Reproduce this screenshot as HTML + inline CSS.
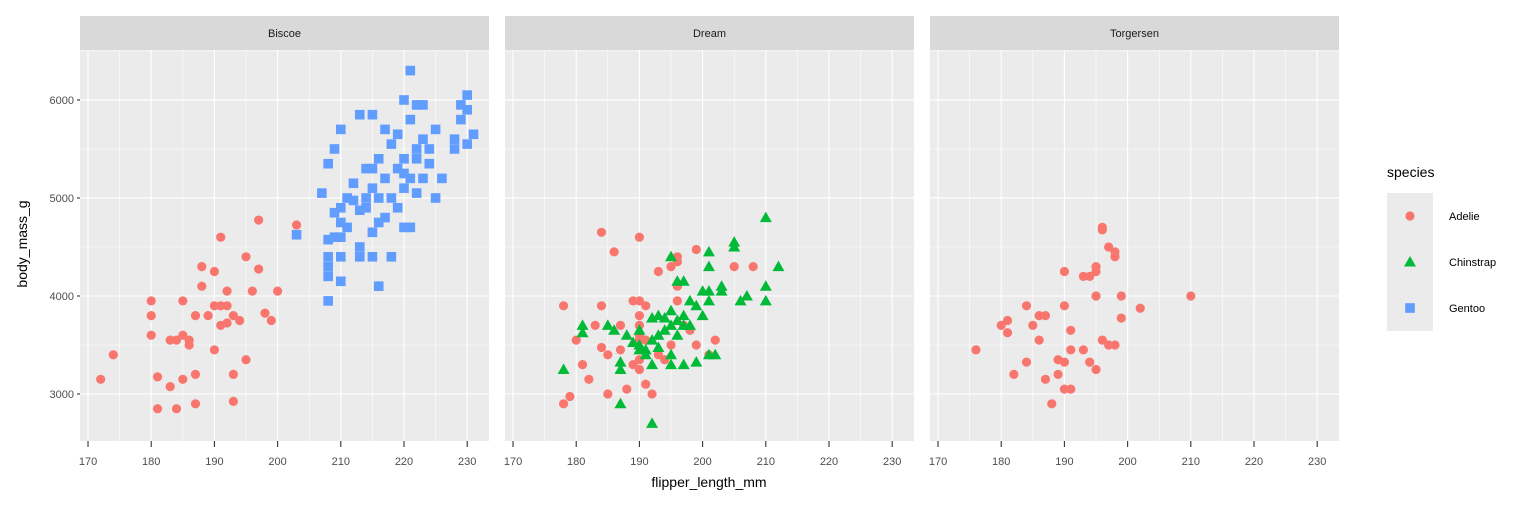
<!DOCTYPE html>
<html><head><meta charset="utf-8"><style>
html,body{margin:0;padding:0;background:#fff;}
svg{display:block;font-family:"Liberation Sans",sans-serif;}
</style></head><body>
<svg id="chart" width="1536" height="506"></svg>
<script>
const facets = ["Biscoe","Dream","Torgersen"];
const xTicks = [170,180,190,200,210,220,230];
const yTicks = [3000,4000,5000,6000];
const speciesNames = ["Adelie","Chinstrap","Gentoo"];
const biscoeAdelie = [[172,3150],[174,3400],[180,3950],[180,3800],[180,3600],[181,3175],[181,2850],[183,3075],[183,3550],[184,3550],[184,2850],[185,3950],[185,3150],[185,3600],[186,3550],[186,3500],[187,3800],[187,3200],[187,2900],[188,4300],[188,4100],[189,3800],[190,4250],[190,3900],[190,3450],[191,4600],[191,3900],[191,3700],[192,4050],[192,3725],[192,3900],[193,3800],[193,3200],[193,2925],[194,3750],[195,4400],[195,3350],[196,4050],[197,4775],[197,4275],[198,3825],[199,3750],[200,4050],[203,4725]];
const biscoeGentoo = [[203,4625],[207,5050],[208,5350],[208,4575],[208,4400],[208,4300],[208,4200],[208,3950],[209,5500],[209,4850],[209,4600],[210,5700],[210,4900],[210,4750],[210,4600],[210,4400],[210,4150],[211,5000],[211,4700],[212,5150],[212,4975],[213,5850],[213,4400],[213,4500],[213,4875],[214,4900],[214,5000],[214,5300],[215,5300],[215,5850],[215,5100],[215,4650],[215,4400],[216,5400],[216,5000],[216,4100],[216,4750],[217,5700],[217,5200],[217,4800],[218,5550],[218,4400],[218,5000],[219,5650],[219,4900],[219,5300],[220,6000],[220,5400],[220,5100],[220,5250],[220,4700],[221,6300],[221,5800],[221,5200],[221,4700],[222,5950],[222,5500],[222,5400],[222,5050],[223,5950],[223,5600],[223,5200],[224,5350],[224,5500],[225,5700],[225,5000],[226,5200],[228,5600],[228,5500],[229,5950],[229,5800],[230,6050],[230,5900],[230,5550],[231,5650]];
const dreamAdelie = [[178,3900],[178,2900],[179,2975],[180,3550],[181,3300],[182,3150],[183,3700],[184,4650],[184,3900],[184,3475],[185,3400],[185,3000],[186,4450],[187,3450],[187,3700],[188,3050],[189,3950],[189,3300],[190,4600],[190,3950],[190,3800],[190,3700],[190,3550],[190,3600],[190,3350],[190,3250],[191,3900],[191,3550],[191,3100],[192,3000],[193,4250],[193,3400],[194,3350],[195,4300],[195,3500],[196,4400],[196,4350],[196,4100],[196,3950],[197,3700],[198,3650],[199,3500],[201,3400],[202,3550],[208,4300],[205,4300],[199,4475]];
const dreamChinstrap = [[178,3250],[181,3700],[181,3625],[185,3700],[186,3650],[187,3325],[187,3250],[187,2900],[188,3600],[189,3525],[190,3650],[190,3500],[190,3450],[191,3450],[191,3400],[192,3775],[192,3550],[192,3300],[192,2700],[193,3800],[193,3600],[193,3475],[194,3775],[194,3650],[195,4400],[195,3850],[195,3700],[195,3400],[195,3300],[196,4150],[196,3600],[196,3750],[197,4150],[197,3800],[197,3700],[197,3300],[198,3950],[198,3700],[199,3900],[199,3325],[200,4050],[200,3800],[201,4450],[201,4300],[201,4050],[201,3950],[201,3400],[202,3400],[203,4100],[203,4050],[205,4550],[205,4500],[206,3950],[207,4000],[210,4800],[210,4100],[210,3950],[212,4300]];
const torgersenAdelie = [[176,3450],[180,3700],[181,3750],[181,3625],[182,3200],[184,3900],[184,3325],[185,3700],[186,3800],[186,3550],[187,3800],[187,3150],[188,2900],[189,3200],[190,4250],[190,3900],[190,3325],[190,3050],[191,3650],[191,3050],[191,3450],[193,4200],[193,3450],[194,4200],[194,3325],[195,4300],[195,4250],[195,4000],[195,3250],[196,4700],[196,3550],[196,4675],[197,4500],[197,3500],[198,4450],[198,4400],[198,3500],[199,4000],[199,3775],[202,3875],[210,4000],[189,3350]];

const NS="http://www.w3.org/2000/svg";
const svg=document.getElementById('chart');
function mk(tag,attrs,parent){const e=document.createElementNS(NS,tag);for(const k in attrs)e.setAttribute(k,attrs[k]);(parent||svg).appendChild(e);return e;}
const colors={Adelie:"#F8766D",Chinstrap:"#00BA38",Gentoo:"#619CFF"};
const panelLefts=[80,505,930], panelW=409, pTop=50, pBottom=441;
const xMin=168.73,xMax=233.45,yMin=2520.4,yMax=6510;
function xs(i,v){return panelLefts[i]+(v-xMin)/(xMax-xMin)*panelW;}
function ys(v){return pBottom-(v-yMin)/(yMax-yMin)*(pBottom-pTop);}
function drawMark(g,sp,cx,cy){
  let m;
  if(sp==="Adelie"){m=mk('circle',{cx:cx,cy:cy,r:4.6,fill:colors[sp]},g);}
  else if(sp==="Chinstrap"){m=mk('polygon',{points:`${cx},${cy-6} ${cx-6},${cy+4.5} ${cx+6},${cy+4.5}`,fill:colors[sp]},g);}
  else {m=mk('rect',{x:cx-4.8,y:cy-4.8,width:9.6,height:9.6,fill:colors[sp]},g);}
  return m;
}
const facetData=[[["Adelie",biscoeAdelie],["Gentoo",biscoeGentoo]],[["Adelie",dreamAdelie],["Chinstrap",dreamChinstrap]],[["Adelie",torgersenAdelie]]];
facets.forEach((f,i)=>{
  const g=mk('g',{});
  
  
  const L=panelLefts[i];
  const bg=mk('rect',{x:L,y:pTop,width:panelW,height:pBottom-pTop,fill:"#EBEBEB"},g);
  
  
  for(let v=175;v<=235;v+=10){const x=xs(i,v);if(x<L+panelW)mk('line',{x1:x,x2:x,y1:pTop,y2:pBottom,stroke:"#fff","stroke-width":0.55},g);}
  [2500,3500,4500,5500,6500].forEach(v=>{const y=ys(v);if(y>pTop&&y<pBottom)mk('line',{x1:L,x2:L+panelW,y1:y,y2:y,stroke:"#fff","stroke-width":0.55},g);});
  xTicks.forEach(v=>{const x=xs(i,v);mk('line',{x1:x,x2:x,y1:pTop,y2:pBottom,stroke:"#fff","stroke-width":1.1},g);
    mk('line',{x1:x,x2:x,y1:pBottom,y2:pBottom+6,stroke:"#333","stroke-width":1.1},g);
    const t=mk('text',{x:x,y:pBottom+24,"text-anchor":"middle","font-size":"11",fill:"#4D4D4D"},g);t.textContent=v;
    });
  yTicks.forEach(v=>{const y=ys(v);mk('line',{x1:L,x2:L+panelW,y1:y,y2:y,stroke:"#fff","stroke-width":1.1},g);});
  const st=mk('rect',{x:L,y:16,width:panelW,height:34,fill:"#D9D9D9"},g);
  
  const stt=mk('text',{x:L+panelW/2,y:37,"text-anchor":"middle","font-size":"11",fill:"#1A1A1A"},g);stt.textContent=f;
  
  facetData[i].forEach(([sp,arr])=>{arr.forEach(([xv,yv])=>{const m=drawMark(g,sp,xs(i,xv),ys(yv));
    
    });});
});
yTicks.forEach(v=>{const y=ys(v);mk('line',{x1:77,x2:80,y1:y,y2:y,stroke:"#333","stroke-width":1.1});
  const t=mk('text',{x:74,y:y+4,"text-anchor":"end","font-size":"11",fill:"#4D4D4D"});t.textContent=v;
  });
const yt=mk('text',{x:0,y:0,transform:"translate(27,244) rotate(-90)","text-anchor":"middle","font-size":"14",fill:"#000"});yt.textContent="body_mass_g";

const xt=mk('text',{x:709,y:487,"text-anchor":"middle","font-size":"14",fill:"#000"});xt.textContent="flipper_length_mm";

const lg=mk('g',{});

const ltt=mk('text',{x:1387,y:177,"font-size":"14",fill:"#000"},lg);ltt.textContent="species";

mk('rect',{x:1387,y:193,width:46,height:138,fill:"#EBEBEB"},lg);
speciesNames.forEach((sp,k)=>{const cy=216+k*46;
  const e=mk('g',{},lg);
  
  
  drawMark(e,sp,1410,cy);
  const t=mk('text',{x:1449,y:cy+4,"font-size":"11",fill:"#000"},e);t.textContent=sp;});
</script>
</body></html>
